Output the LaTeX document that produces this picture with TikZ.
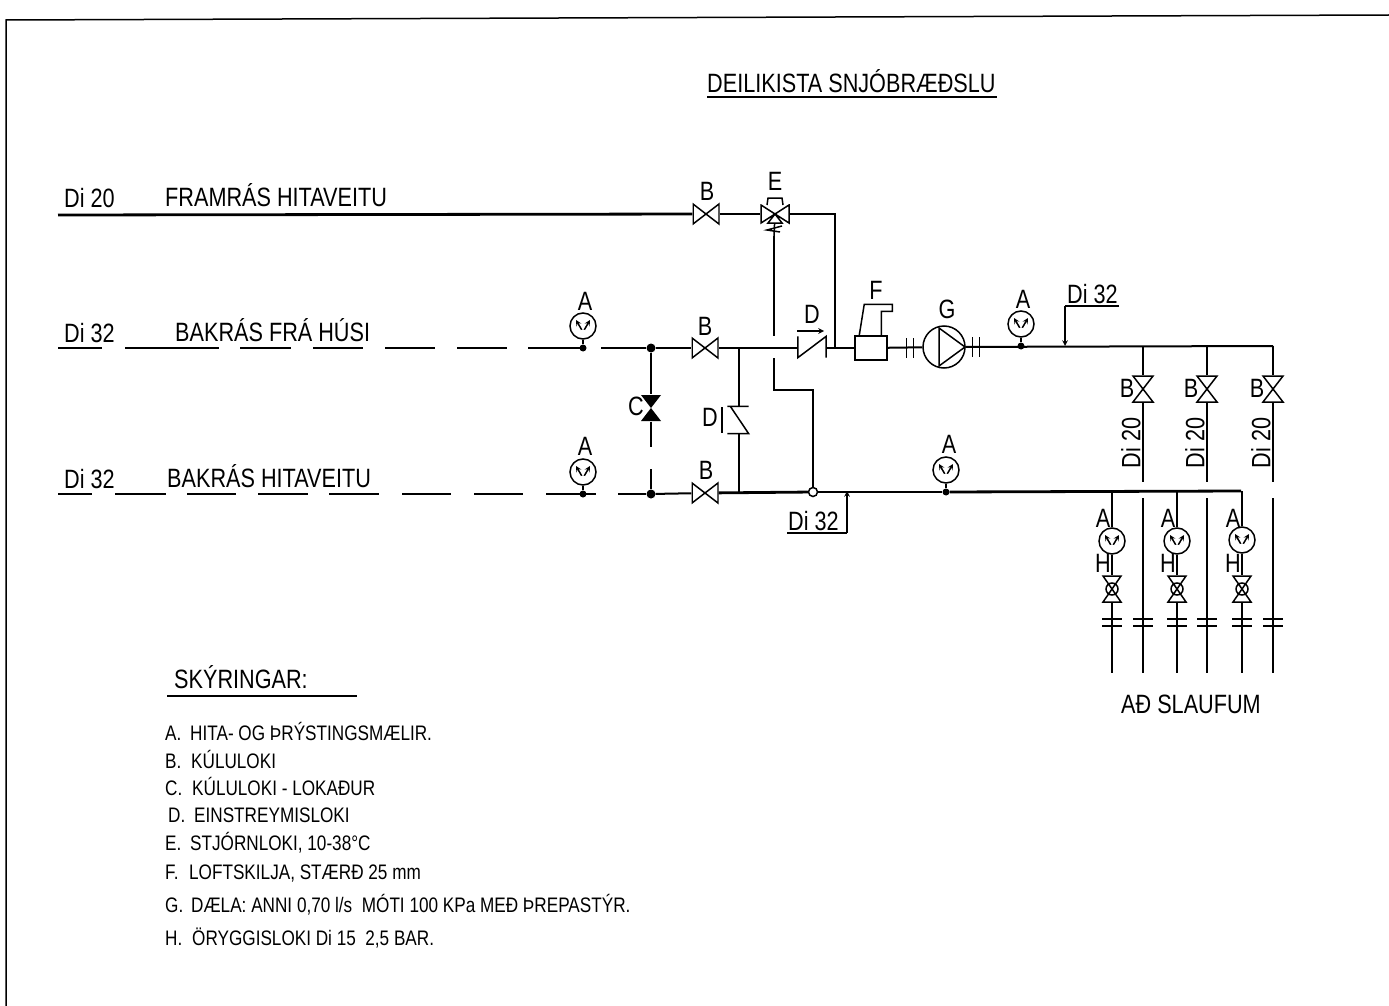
\documentclass[tikz,border=0pt]{standalone}
\usepackage{fontspec}
\setmainfont[FakeStretch=0.817]{Liberation Sans}
\usetikzlibrary{arrows,positioning,calc}
\tikzset{
  pipe/.style = {line width = 2pt},
  pipeb/.style = {line width = 2.8pt},
  thinl/.style = {line width = 1.5pt},
  txt/.style = {anchor = base west, inner sep = 0pt, font = \fontsize{26.5}{26.5}\selectfont},
  leg/.style = {anchor = base west, inner sep = 0pt, font = \fontsize{21}{21}\selectfont},
  tag/.style = {inner sep = 0pt, font = \fontsize{26.5}{26.5}\selectfont},
  hvalve/.style = {minimum width = 27pt, minimum height = 23pt, inner sep = 0pt,
    path picture = {\draw[thinl, shift = {(path picture bounding box.center)}] (-13,-10) -- (13,10) -- (13,-10) -- (-13,10) -- cycle;}},
  vvalve/.style = {minimum width = 23pt, minimum height = 27pt, inner sep = 0pt,
    path picture = {\draw[thinl, shift = {(path picture bounding box.center)}] (-10,-13) -- (10,13) -- (-10,13) -- (10,-13) -- cycle;}},
  gauge/.style = {circle, draw, thinl, minimum size = 26pt, inner sep = 0pt, fill = white,
    path picture = {\draw[thinl, shift = {(path picture bounding box.center)}, ->, >=stealth] (0,6) -- (-7,-6);
      \draw[thinl, shift = {(path picture bounding box.center)}, ->, >=stealth] (0,6) -- (7,-6);
      \fill[shift = {(path picture bounding box.center)}] (0,6) circle (2.6);}},
  flgh/.style = {minimum width = 10pt, minimum height = 21pt, inner sep = 0pt,
    path picture = {\draw[thinl, shift = {(path picture bounding box.center)}] (-3.5,-10) -- (-3.5,10) (3.5,-10) -- (3.5,10);}},
  flgv/.style = {minimum width = 21pt, minimum height = 10pt, inner sep = 0pt,
    path picture = {\draw[thinl, shift = {(path picture bounding box.center)}] (-10,-3.5) -- (10,-3.5) (-10,3.5) -- (10,3.5);}},
  dot/.style = {circle, fill = black, minimum size = 9pt, inner sep = 0pt},
}
\begin{document}
\begin{tikzpicture}[x = 1pt, y = -1pt]
\useasboundingbox (0,0) rectangle (1389,1006);
% frame
\draw[thinl] (6,1006) -- (6,20) -- (1389,15);
% title
\node[txt] (title) at (707,93) {DEILIKISTA SNJÓBRÆÐSLU};
\draw[pipeb] (707,97) -- (997,97);
% line labels
\node[txt] (di1) at (64,207) {Di 20};
\node[txt] (fram) at (165,206) {FRAMRÁS HITAVEITU};
\node[txt] (di2) at (64,342) {Di 32};
\node[txt] (bakh) at (175,341) {BAKRÁS FRÁ HÚSI};
\node[txt] (di3) at (64,488) {Di 32};
\node[txt] (bakv) at (167,487) {BAKRÁS HITAVEITU};
% free ends and tees
\coordinate (st1) at (58,215);
\coordinate (st2) at (58,348);
\coordinate (st3) at (58,494);
\coordinate (cE) at (835,214);
\coordinate (tE) at (835,348);
\coordinate (tD) at (739,348);
\coordinate (bD) at (739,492);
\coordinate (ctl1) at (774,236);
\coordinate (ctl2) at (774,336);
\coordinate (ctl3) at (774,358);
\coordinate (ctl4) at (774,390);
\coordinate (ctl5) at (813,390);
\coordinate (rC) at (1273,346);
\coordinate (rR) at (1241,491);
\coordinate (di4a) at (847,533);
\coordinate (di4b) at (787,533);
\coordinate (di4c) at (847,491);
\coordinate (di5a) at (1065,306);
\coordinate (di5b) at (1119,306);
\coordinate (di5c) at (1065,346);
\coordinate (gapC1) at (651,447);
\coordinate (gapC2) at (651,469);
% valves and meters
\node[hvalve] (vB1) at (706,214) {};
\node[hvalve] (vB2) at (705,348) {};
\node[hvalve] (vB3) at (705,493) {};
\node[minimum width = 30pt, minimum height = 20pt, inner sep = 0pt, path picture = {\draw[thinl, shift = {(path picture bounding box.center)}] (-14,-9) -- (14,9) -- (14,-9) -- (-14,9) -- cycle (0,0) -- (-7,9) -- (7,9) -- cycle;}] (vE) at (775,214) {};
\node[dot] (j2) at (651,348) {};
\node[dot] (j3) at (651,494) {};
\node[dot, minimum size = 7pt] (jA1) at (583,348) {};
\node[dot, minimum size = 7pt] (jA2) at (583,494) {};
\node[dot, minimum size = 7pt] (jA3) at (946,492) {};
\node[dot, minimum size = 7pt] (jA4) at (1021,346) {};
\node[gauge] (gA1) at (583,326) {};
\node[gauge] (gA2) at (583,472) {};
\node[gauge] (gA3) at (946,470) {};
\node[gauge] (gA4) at (1021,324) {};
\node[circle, draw, thinl, minimum size = 9pt, inner sep = 0pt] (ring) at (813,492) {};
\node[draw, thinl, minimum width = 32pt, minimum height = 24pt, inner sep = 0pt] (sep) at (871,348) {};
\node[circle, draw, thinl, minimum size = 42pt, inner sep = 0pt] (pump) at (944,347) {};
% supply
\draw[pipeb] (st1) -- (vB1);
\draw[pipeb] (vB1) -- (vE);
\draw[pipeb] (vE.east) -- (cE) -- (tE);
% return from house, gaps as drawn
\draw[pipe, dash pattern = on 44pt off 23pt on 94pt off 21pt on 51pt off 22pt on 50pt off 22pt on 50pt off 22pt on 50pt off 21pt on 55pt off 18pt on 60pt] (st2) -- (j2);
\draw[pipe, dash pattern = on 34pt off 23pt on 51pt off 21pt on 49pt off 22pt on 50pt off 21pt on 50pt off 23pt on 49pt off 23pt on 49pt off 23pt on 50pt off 22pt on 60pt] (st3) -- (j3);
\draw[pipe] (jA1) -- (gA1);
\draw[pipe] (jA2) -- (gA2);
\draw[pipe] (jA3) -- (gA3);
\draw[pipe] (jA4) -- (gA4);
\draw[pipe] (j2) -- (vB2);
\draw[pipe] (j3) -- (vB3);
% closed bypass
\node[vvalve, minimum width = 24pt, path picture = {\fill[shift = {(path picture bounding box.center)}] (-10,-13) -- (10,13) -- (-10,13) -- (10,-13) -- cycle;}] (vC) at (651,408) {};
\draw[pipeb] (j2) -- (vC);
\draw[pipe] (vC) -- (gapC1);
\draw[pipe] (gapC2) -- (j3);
% check valve on the bridge
\node[minimum width = 21pt, minimum height = 27pt, inner sep = 0pt] (vD1) at (738,420) {};
\draw[thinl] (vD1.north west) -- (vD1.north east) ([xshift = 3pt]vD1.north west) -- (vD1.south east) -- (vD1.south west);
\draw[thinl] (722,407) -- (722,433);
\draw[pipe] (tD) -- (tD |- vD1.north);
\draw[pipe] (tD |- vD1.south) -- (bD);
% check valve on the main
\node[minimum width = 28pt, minimum height = 21pt, inner sep = 0pt] (vD) at (812,347) {};
\draw[thinl] (vD.north west) -- (vD.south west) -- (vD.north east) -- (vD.south east);
\draw[thinl, -stealth] (797,331) -- (824,331);
\draw[pipeb] (vB2) -- (tD);
\draw[pipe] (tD) -- (vD.west |- tD);
\draw[pipe] (vD.east |- tE) -- (sep);
% air separator
\draw[thinl] (sep.north west) ++(5,0) -- ++(5,-31) -- ++(28,0) -- ++(0,7) -- ++(-11,0) -- ++(0,24);
\draw[pipe] (sep) -- (pump);
\node[flgh] (flg1) at (910,348) {};
% pump
\draw[thinl] (939,328) -- (939,366) -- (965,347) -- cycle;
\draw[pipe] (pump) -- (rC);
\node[flgh] (flg2) at (976,347) {};
% control line
\draw[thinl] (ctl1) -- (ctl2);
\draw[thinl] (ctl3) -- (ctl4) -- (ctl5) -- (ring);
\draw[thinl] (767,205) -- (768,198) -- (782,198) -- (783,205);
\draw[thinl] (782,226) -- (767,230) -- (780,232);
\draw[thinl] (ctl1) -- (vE);
% lower return
\draw[pipeb] (vB3) -- (ring);
\draw[pipeb] (ring) -- (jA3);
\draw[pipeb] (jA3) -- (rR);
% size leaders
\draw[thinl] (di4b) -- (di4a);
\draw[thinl, -stealth] (di4a) -- (di4c);
\node[txt] (di4) at (788,530) {Di 32};
\draw[thinl] (di5b) -- (di5a);
\draw[thinl, -stealth] (di5a) -- (di5c);
\node[txt] (di5) at (1067,303) {Di 32};
% branches
\foreach \i/\x/\g/\gy in {1/1143/1112/541, 2/1207/1177/541, 3/1273/1242/540}{
  \coordinate (tee\i) at (\x,346);
  \coordinate (lo\i) at (\x,482);
  \coordinate (hi\i) at (\x,498);
  \coordinate (end\i) at (\x,673);
  \coordinate (rt\i) at (\g,491);
  \coordinate (re\i) at (\g,673);
  \node[vvalve] (vS\i) at (\x,389) {};
  \node[gauge] (gH\i) at (\g,\gy) {};
  \node[vvalve, minimum width = 21pt, path picture = {\draw[thinl, shift = {(path picture bounding box.center)}] (-9,-13) -- (9,13) -- (-9,13) -- (9,-13) -- cycle (0,0) circle (6);}] (vH\i) at (\g,589) {};
  \draw[pipe] (tee\i) -- (vS\i);
  \draw[pipe] (vS\i) -- (lo\i);
  \draw[pipe] (hi\i) -- (end\i);
  \draw[pipe] (rt\i) -- (gH\i);
  \draw[pipe] (gH\i) -- (vH\i);
  \draw[pipe] (vH\i) -- (re\i);
  \node[flgv] (fS\i) at (\x,622.5) {};
  \node[flgv] (fH\i) at (\g,622.5) {};
  \node[tag] (bB\i) at (\x-16,388) {B};
  \node[tag, rotate = 90] (dD\i) at (\x-12,443) {Di 20};
  \node[tag] (aA\i) at (\g-9,518) {A};
  \node[tag] (hH\i) at (\g-9,563) {H};
}
% letters
\node[tag] at (707,191) {B};
\node[tag] at (775,181) {E};
\node[tag] at (705,326) {B};
\node[tag] at (706,470) {B};
\node[tag] at (585,301) {A};
\node[tag] at (585,446) {A};
\node[tag] at (949,444) {A};
\node[tag] at (1023,299) {A};
\node[tag] at (636,406) {C};
\node[tag] at (710,417) {D};
\node[tag] at (812,314) {D};
\node[tag] at (876,290) {F};
\node[tag] at (947,309) {G};
\node[txt] (slauf) at (1121,713) {AÐ SLAUFUM};
% legend
\node[txt] (skyr) at (174,688) {SKÝRINGAR:};
\draw[thinl] (167,696) -- (357,696);
\foreach \l/\lx/\t/\tx/\ty in {A./165/HITA- OG ÞRÝSTINGSMÆLIR./190/740, B./165/KÚLULOKI/191/768, C./165/KÚLULOKI - LOKAÐUR/192/795, D./168/EINSTREYMISLOKI/194/822, E./165/{STJÓRNLOKI, 10-38°C}/190/850, F./165/{LOFTSKILJA, STÆRÐ 25 mm}/189/879, G./165/{DÆLA: ANNI 0,70 l/s\ \ MÓTI 100 KPa MEÐ ÞREPASTÝR.}/191/912, H./165/{ÖRYGGISLOKI Di 15\ \ 2,5 BAR.}/192/945}{
  \node[leg] at (\lx,\ty) {\l};
  \node[leg] at (\tx,\ty) {\t};
}
\end{tikzpicture}
\end{document}
